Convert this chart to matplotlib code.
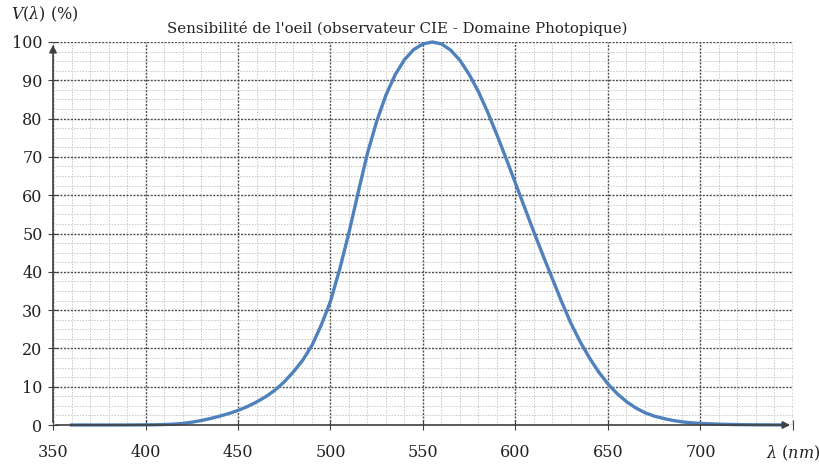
"""
 Sensibilité de l'oeil - courbe V(lambda) photopique CIE
"""
import matplotlib
matplotlib.use('Agg')
import matplotlib.pyplot as plt
from matplotlib.ticker import MultipleLocator
import numpy as np

# longueur d'onde (nm) et V(lambda) en %
wl = [360, 370, 380, 390, 400, 405, 410, 415, 420, 425, 430, 435, 440, 445,
      450, 455, 460, 465, 470, 475, 480, 485, 490, 495, 500, 505, 510, 515,
      520, 525, 530, 535, 540, 545, 550, 555, 560, 565, 570, 575, 580, 585,
      590, 595, 600, 605, 610, 615, 620, 625, 630, 635, 640, 645, 650, 655,
      660, 665, 670, 675, 680, 685, 690, 695, 700, 710, 720, 730, 740, 745]
v = [0.0, 0.0, 0.0, 0.01, 0.04, 0.06, 0.12, 0.22, 0.4, 0.73, 1.16, 1.68, 2.3, 2.98,
     3.8, 4.8, 6.0, 7.39, 9.1, 11.26, 13.9, 16.93, 20.8, 26.08, 32.3, 40.73, 50.3, 60.8,
     71.0, 79.32, 86.2, 91.49, 95.4, 98.03, 99.5, 100.0, 99.5, 97.86, 95.2, 91.5, 87.0, 81.63,
     75.7, 69.49, 63.1, 56.68, 50.3, 44.12, 38.1, 32.1, 26.5, 21.7, 17.5, 13.82, 10.7, 8.16,
     6.1, 4.46, 3.2, 2.32, 1.7, 1.19, 0.82, 0.57, 0.41, 0.21, 0.10, 0.05, 0.03, 0.02]

xticks = [350, 400, 450, 500, 550, 600, 650, 700, 750]
xlabels = ['350', '400', '450', '500', '550', '600', '650', '700', r'$\lambda\ (nm)$']
yticks = [0, 10, 20, 30, 40, 50, 60, 70, 80, 90, 100]

plt.rcParams['font.family'] = 'DejaVu Serif'
plt.rcParams['mathtext.fontset'] = 'dejavuserif'

fig = plt.figure(figsize=(8.2, 4.67), dpi=100)
ax = fig.add_axes([53/820, 1-425/467, 740/820, 383/467])

ax.plot(wl, v, color='#4f81bd', lw=2.4, zorder=3, clip_on=False,
        solid_joinstyle='round')

ax.set_xlim(350, 750)
ax.set_ylim(0, 100)
ax.set_xticks(xticks)
ax.set_xticklabels(xlabels)
ax.set_yticks(yticks)
ax.xaxis.set_minor_locator(MultipleLocator(10))
ax.yaxis.set_minor_locator(MultipleLocator(2.5))

ax.grid(which='major', color='#505050', ls=(0, (1.5, 1)), lw=1.0)
ax.grid(which='minor', color='#c8c8c8', ls=(0, (1.5, 1.5)), lw=0.7)
ax.set_axisbelow(True)

for s in ['top', 'right', 'bottom', 'left']:
    ax.spines[s].set_visible(False)
ax.tick_params(which='major', direction='inout', length=7, color='#404040',
               labelsize=11.5, labelcolor='#222222')
ax.tick_params(which='minor', length=0)
ax.tick_params(axis='y', pad=4)
ax.tick_params(axis='x', pad=10)

# axes avec flèches
ax.annotate('', xy=(1, 0), xytext=(0, 0), xycoords='axes fraction',
            arrowprops=dict(arrowstyle='-|>', color='#404040', lw=1.2, mutation_scale=11))
ax.annotate('', xy=(0, 1), xytext=(0, 0), xycoords='axes fraction',
            arrowprops=dict(arrowstyle='-|>', color='#404040', lw=1.2, mutation_scale=11))

fig.text(397/820, 1-28/467, "Sensibilité de l'oeil (observateur CIE - Domaine Photopique)",
         ha='center', va='center', fontsize=10.8, color='#222222')
fig.text(45/820, 1-14/467, r'$V(\lambda)$ (%)', ha='center', va='center', fontsize=11.5,
         color='#222222')

plt.savefig('out.png', dpi=100)
plt.close()
